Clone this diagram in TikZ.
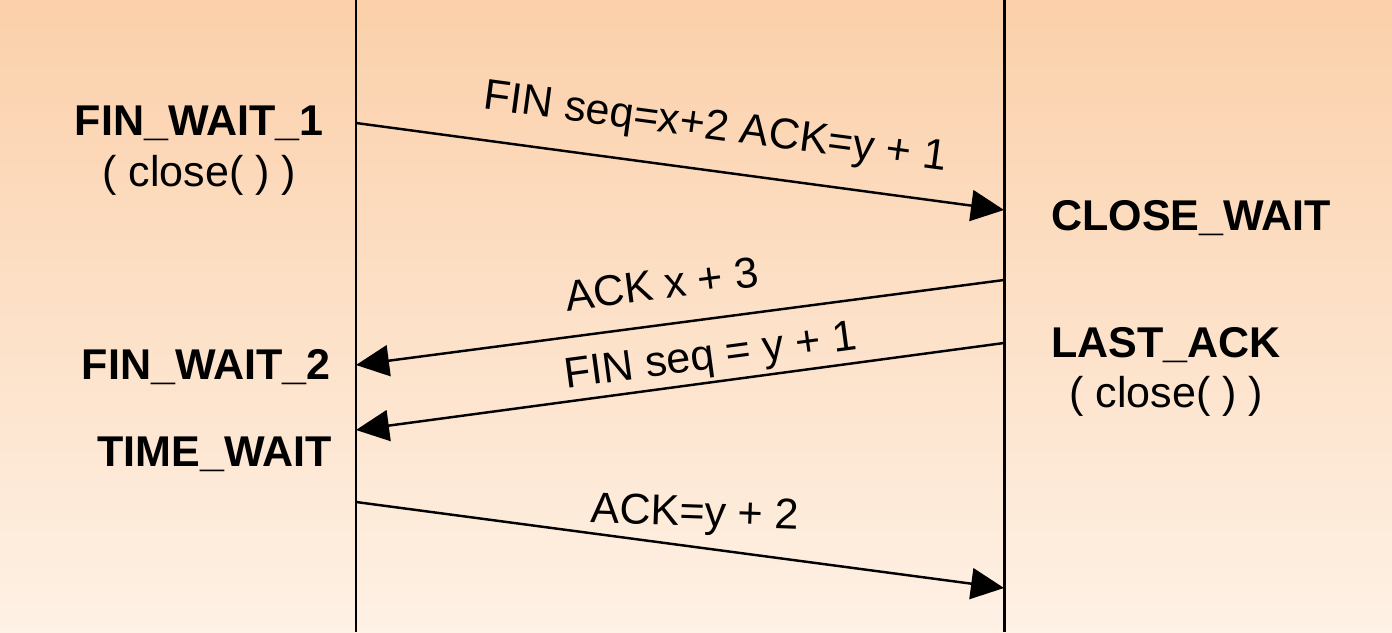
\documentclass[tikz,border=0pt]{standalone}
\usepackage{fontspec}
\setmainfont{Liberation Sans}
\usetikzlibrary{arrows.meta, positioning}
\definecolor{bgtop}{RGB}{251,208,170}
\definecolor{bgbot}{RGB}{254,241,229}

\begin{document}
\begin{tikzpicture}[
    x=0.02cm, y=-0.02cm,
    state/.style={inner sep=0pt, font=\fontsize{24.5}{29.5}\selectfont\bfseries},
    call/.style={inner sep=0pt, font=\fontsize{24.5}{29.5}\selectfont},
    msg/.style={call, sloped},
    timeline/.style={line width=1.7pt},
    arrow/.style={-{Triangle[length=0.66cm, width=0.62cm]}, line width=1.4pt}
]
    % Background
    \useasboundingbox (0,0) rectangle (1392,632);
    \shade[top color=bgtop, bottom color=bgbot] (0,0) rectangle (1392,632);

    % Time lines
    \coordinate (ltop) at (356,0);
    \coordinate (lbot) at (356,632);
    \coordinate (rtop) at (1004,0);
    \coordinate (rbot) at (1004,632);
    \draw[timeline] (ltop) -- (lbot);
    \draw[timeline] (rtop) -- (rbot);

    % Client states
    \node[state, anchor=base east] (fw1) at (324,135) {FIN\_WAIT\_1};
    \node[call, below=1.04cm of fw1.base, anchor=base] (fw1call) {( close( ) )};
    \node[state, anchor=base east] (fw2) at (331,379) {FIN\_WAIT\_2};
    \node[state, anchor=base east] (tw) at (332,466) {TIME\_WAIT};

    % Server states
    \node[state, anchor=base west] (cw) at (1051,230) {CLOSE\_WAIT};
    \node[state, anchor=base west] (la) at (1051,357) {LAST\_ACK};
    \node[call, below=1.02cm of la.base, anchor=base] (lacall) {( close( ) )};

    % Message ends
    \coordinate (finA) at (356,123);
    \coordinate (finB) at (1004,210);
    \coordinate (ackA) at (1004,280);
    \coordinate (ackB) at (356,365);
    \coordinate (fin2A) at (1004,343);
    \coordinate (fin2B) at (356,430);
    \coordinate (ack2A) at (356,502);
    \coordinate (ack2B) at (1004,588);

    % Messages
    \draw[arrow] (finA) -- node[msg, pos=0.546, above=0.42cm] {FIN seq=x+2 ACK=y + 1} (finB);
    \draw[arrow] (ackA) -- node[msg, pos=0.52, above=0.48cm] {ACK x + 3} (ackB);
    \draw[arrow] (fin2A) -- node[msg, pos=0.447, above=0.06cm] {FIN seq = y + 1} (fin2B);
    \draw[arrow] (ack2A) -- node[call, pos=0.522, above=0.22cm, rotate=-2] {ACK=y + 2} (ack2B);
\end{tikzpicture}
\end{document}
